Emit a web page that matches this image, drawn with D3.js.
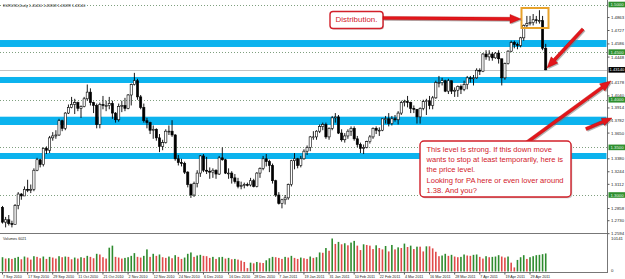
<!DOCTYPE html>
<html><head><meta charset="utf-8">
<script src="https://cdn.jsdelivr.net/npm/d3@7"></script>
<style>body{margin:0;background:#fff}svg{display:block}</style>
</head><body>
<svg id="c" width="625" height="279"></svg>
<script>
// ---------- DATA ----------
const openP = [1.2870,1.2715,1.2740,1.2700,1.2690,1.2890,1.3010,1.2990,1.3060,1.3050,
1.3060,1.3260,1.3370,1.3320,1.3490,1.3470,1.3600,1.3620,1.3630,1.3780,
1.3700,1.3860,1.3920,1.3950,1.3970,1.3910,1.3930,1.4010,1.4080,1.3970,
1.3940,1.3740,1.3950,1.3940,1.3940,1.3960,1.3860,1.3790,1.3930,1.3940,
1.3910,1.4050,1.4160,1.4200,1.4030,1.3920,1.3780,1.3760,1.3680,1.3690,
1.3600,1.3510,1.3550,1.3670,1.3670,1.3630,1.3380,1.3340,1.3330,1.3240,
1.3110,1.3000,1.3120,1.3230,1.3410,1.3260,1.3250,1.3240,1.3260,1.3220,
1.3390,1.3370,1.3230,1.3230,1.3180,1.3140,1.3090,1.3100,1.3110,1.3105,
1.3150,1.3090,1.3230,1.3280,1.3380,1.3350,1.3310,1.3150,1.3000,1.2910,
1.2950,1.2970,1.3110,1.3360,1.3380,1.3310,1.3380,1.3460,1.3500,1.3610,
1.3610,1.3670,1.3720,1.3740,1.3610,1.3700,1.3810,1.3820,1.3650,1.3580,
1.3620,1.3670,1.3700,1.3590,1.3530,1.3490,1.3500,1.3560,1.3610,1.3700,
1.3680,1.3680,1.3800,1.3800,1.3750,1.3800,1.3790,1.3860,1.3970,1.3980,
1.3970,1.3910,1.3900,1.3820,1.3910,1.3980,1.3990,1.3940,1.4020,1.4180,
1.4180,1.4200,1.4090,1.4200,1.4090,1.4100,1.4140,1.4110,1.4160,1.4230,
1.4220,1.4230,1.4310,1.4300,1.4480,1.4450,1.4480,1.4440,1.4490,1.4430,
1.4230,1.4380,1.4510,1.4600,1.4580,1.4570,1.4650,1.4780,1.4800,1.4810,
1.4840,1.4830,1.4830,1.4541];
const highP = [1.2885,1.2770,1.2790,1.2730,1.2905,1.3030,1.3020,1.3090,1.3160,1.3110,
1.3280,1.3390,1.3380,1.3500,1.3510,1.3620,1.3660,1.3680,1.3800,1.3790,
1.3870,1.3950,1.4030,1.4010,1.3980,1.3940,1.4030,1.4160,1.4120,1.3980,
1.3960,1.3970,1.4040,1.3990,1.4030,1.3990,1.3870,1.3960,1.3990,1.4020,
1.4060,1.4170,1.4282,1.4220,1.4050,1.3960,1.3810,1.3770,1.3730,1.3700,
1.3640,1.3580,1.3690,1.3730,1.3785,1.3640,1.3420,1.3380,1.3350,1.3250,
1.3120,1.3140,1.3260,1.3420,1.3430,1.3400,1.3290,1.3280,1.3270,1.3410,
1.3500,1.3380,1.3280,1.3250,1.3220,1.3180,1.3140,1.3130,1.3130,1.3180,
1.3170,1.3240,1.3290,1.3410,1.3430,1.3370,1.3330,1.3160,1.3030,1.2960,
1.3000,1.3120,1.3370,1.3440,1.3390,1.3410,1.3480,1.3520,1.3620,1.3670,
1.3680,1.3740,1.3760,1.3760,1.3710,1.3830,1.3860,1.3840,1.3690,1.3650,
1.3690,1.3720,1.3720,1.3620,1.3550,1.3530,1.3570,1.3630,1.3710,1.3720,
1.3710,1.3800,1.3830,1.3860,1.3830,1.3840,1.3880,1.3990,1.4000,1.4040,
1.3980,1.3940,1.3900,1.3920,1.4000,1.4010,1.4040,1.4040,1.4200,1.4250,
1.4230,1.4210,1.4220,1.4200,1.4130,1.4150,1.4160,1.4200,1.4250,1.4250,
1.4260,1.4330,1.4330,1.4490,1.4520,1.4520,1.4500,1.4500,1.4520,1.4430,
1.4390,1.4520,1.4620,1.4620,1.4600,1.4660,1.4790,1.4880,1.4880,1.4900,
1.4880,1.4940,1.4880,1.4587];
const lowP = [1.2700,1.2660,1.2680,1.2660,1.2690,1.2850,1.2950,1.2990,1.3030,1.3020,
1.3040,1.3250,1.3290,1.3300,1.3430,1.3440,1.3570,1.3590,1.3620,1.3670,
1.3680,1.3850,1.3910,1.3850,1.3880,1.3810,1.3920,1.3990,1.3940,1.3860,
1.3700,1.3700,1.3900,1.3880,1.3900,1.3800,1.3760,1.3770,1.3870,1.3880,
1.3900,1.3940,1.4150,1.4000,1.3900,1.3760,1.3700,1.3640,1.3590,1.3570,
1.3450,1.3470,1.3540,1.3630,1.3610,1.3360,1.3310,1.3300,1.3220,1.3080,
1.2969,1.2980,1.3080,1.3190,1.3240,1.3220,1.3170,1.3180,1.3170,1.3210,
1.3360,1.3220,1.3170,1.3120,1.3120,1.3070,1.3060,1.3070,1.3090,1.3090,
1.3080,1.3080,1.3180,1.3260,1.3300,1.3240,1.3120,1.2980,1.2900,1.2860,
1.2900,1.2950,1.3090,1.3270,1.3280,1.3290,1.3370,1.3420,1.3460,1.3580,
1.3580,1.3650,1.3680,1.3590,1.3580,1.3680,1.3760,1.3640,1.3560,1.3550,
1.3590,1.3620,1.3570,1.3500,1.3440,1.3430,1.3490,1.3540,1.3590,1.3640,
1.3620,1.3670,1.3750,1.3720,1.3730,1.3770,1.3740,1.3840,1.3930,1.3920,
1.3860,1.3860,1.3750,1.3750,1.3890,1.3840,1.3900,1.3900,1.4010,1.4130,
1.4150,1.4080,1.4060,1.4060,1.4030,1.4030,1.4060,1.4090,1.4110,1.4180,
1.4150,1.4220,1.4260,1.4290,1.4420,1.4410,1.4410,1.4430,1.4380,1.4150,
1.4210,1.4370,1.4500,1.4540,1.4530,1.4550,1.4620,1.4760,1.4780,1.4780,
1.4800,1.4800,1.4520,1.4310];
const closeP = [1.2715,1.2740,1.2700,1.2690,1.2890,1.3010,1.2990,1.3060,1.3050,1.3060,
1.3260,1.3370,1.3320,1.3490,1.3470,1.3600,1.3620,1.3630,1.3780,1.3700,
1.3860,1.3920,1.3950,1.3970,1.3910,1.3930,1.4010,1.4080,1.3970,1.3940,
1.3740,1.3950,1.3940,1.3940,1.3960,1.3860,1.3790,1.3930,1.3940,1.3910,
1.4050,1.4160,1.4200,1.4030,1.3920,1.3780,1.3760,1.3680,1.3690,1.3600,
1.3510,1.3550,1.3670,1.3670,1.3630,1.3380,1.3340,1.3330,1.3240,1.3110,
1.3000,1.3120,1.3230,1.3410,1.3260,1.3250,1.3240,1.3260,1.3220,1.3390,
1.3370,1.3230,1.3230,1.3180,1.3140,1.3090,1.3100,1.3110,1.3105,1.3150,
1.3090,1.3230,1.3280,1.3380,1.3350,1.3310,1.3150,1.3000,1.2910,1.2950,
1.2970,1.3110,1.3360,1.3380,1.3310,1.3380,1.3460,1.3500,1.3610,1.3610,
1.3670,1.3720,1.3740,1.3610,1.3700,1.3810,1.3820,1.3650,1.3580,1.3620,
1.3670,1.3700,1.3590,1.3530,1.3490,1.3500,1.3560,1.3610,1.3700,1.3680,
1.3680,1.3800,1.3800,1.3750,1.3800,1.3790,1.3860,1.3970,1.3980,1.3970,
1.3910,1.3900,1.3820,1.3910,1.3980,1.3990,1.3940,1.4020,1.4180,1.4180,
1.4200,1.4090,1.4200,1.4090,1.4100,1.4140,1.4110,1.4160,1.4230,1.4220,
1.4230,1.4310,1.4300,1.4480,1.4450,1.4480,1.4440,1.4490,1.4430,1.4230,
1.4380,1.4510,1.4600,1.4580,1.4570,1.4650,1.4780,1.4800,1.4810,1.4840,
1.4830,1.4830,1.4541,1.4314];
const volumes = [4200,3800,3900,3700,4000,4300,3600,4400,4100,3500,
4500,4300,3900,4400,3700,4300,4100,3800,4500,4200,
4400,4300,3600,4100,3800,4200,4000,4600,4300,3900,
5200,5000,4200,3800,7000,7600,4300,4100,3800,4000,
4200,4600,5400,4300,4100,4600,6500,4300,5200,4600,
5000,4200,4000,4400,3900,4800,4300,3700,4100,5200,
5600,4300,4700,4900,4600,4500,4000,4300,3700,4200,
4300,3800,4000,3600,3700,3500,3200,2800,1000,2600,
2400,2800,2600,2500,3300,3900,4300,4200,4000,3700,
4300,4100,4600,4000,3700,4100,3900,3700,4400,4000,
4200,5600,5500,6900,6100,9700,8100,8700,8000,8300,
7700,8500,9000,7600,6300,8000,7800,7600,6600,7700,
6900,6500,7500,5900,7800,6500,7100,6900,8200,7200,
7600,6600,7300,7300,5900,7400,7400,6800,5800,4500,
4700,5200,4600,4900,4400,4200,4300,5000,4700,4600,
4900,5000,4300,3800,4500,4200,4300,4400,4800,4400,
4100,4400,2600,1200,3400,4200,4800,3700,4200,4500,
4800,4900,5100,5300];
const dateLabels = ["7 Sep 2010","17 Sep 2010","29 Sep 2010","11 Oct 2010","21 Oct 2010","2 Nov 2010","12 Nov 2010","24 Nov 2010","6 Dec 2010","16 Dec 2010","28 Dec 2010","7 Jan 2011","19 Jan 2011","31 Jan 2011","10 Feb 2011","22 Feb 2011","4 Mar 2011","16 Mar 2011","28 Mar 2011","7 Apr 2011","19 Apr 2011","29 Apr 2011"];
const dateLabelBars = [0,8,16,24,32,40,48,56,64,72,80,88,96,104,112,120,128,136,144,152,160,168];
const priceTicks = [1.4863,1.4727,1.4586,1.4448,1.4178,1.4040,1.3914,1.3782,1.3650,1.3380,1.3244,1.3112,1.2858,1.2730,1.2594];
const levelLines = [1.5000,1.4500,1.4000,1.3500,1.3000];
const zoneTop = [1.4627,1.4239,1.3822,1.3441];
const zoneBottom = [1.4554,1.4176,1.3735,1.3378];
const lastPrice = 1.43140;
const volMax = 10141;
const titleText = "EURUSD,Daily  1.45410 1.45868 1.43099 1.43140";
const volTitle = "Volumes 6021";
const noteLines = ["This level is strong. If this down move","wants to stop at least temporarily, here is","the price level.","Looking for PA here or even lover around","1.38. And you?"];
const distText = "Distribution.";

// ---------- DRAW ----------
const svg = d3.select("#c");
const W = 625, axisX = 607.5;
const n = closeP.length;
const x = d3.scaleLinear().domain([0, n-1]).range([2.5, 2.5 + (n-1)*3.14]);
const y = d3.scaleLinear().domain([1.30, 1.50]).range([195, 4.5]);
const vy = d3.scaleLinear().domain([0, volMax]).range([271.5, 237]);
const font = "'Liberation Sans', Arial, sans-serif";
const small = 3.7;

svg.append("rect").attr("width",W).attr("height",279).attr("fill","#fff");

// level dotted lines
svg.append("g").selectAll("line").data(levelLines).join("line")
  .attr("x1",0).attr("x2",axisX).attr("y1",d=>Math.round(y(d))+0.5).attr("y2",d=>Math.round(y(d))+0.5)
  .attr("stroke","#7f9f7f").attr("stroke-width",1).attr("stroke-dasharray","1,2");

// zones
svg.append("g").selectAll("rect").data(zoneTop).join("rect")
  .attr("x",0).attr("width",axisX-1)
  .attr("y",(d)=>y(d)).attr("height",(d,i)=>y(zoneBottom[i])-y(d))
  .attr("fill","#0cb3ee");

// last price line
svg.append("line").attr("x1",0).attr("x2",axisX).attr("y1",Math.round(y(lastPrice))+0.5).attr("y2",Math.round(y(lastPrice))+0.5)
  .attr("stroke","#c4c4c4").attr("stroke-width",1);

// candles
const cg = svg.append("g");
const idx = d3.range(n);
cg.selectAll("line").data(idx).join("line")
  .attr("x1",i=>x(i)).attr("x2",i=>x(i)).attr("y1",i=>y(highP[i])).attr("y2",i=>y(lowP[i]))
  .attr("stroke","#000").attr("stroke-width",0.9);
cg.selectAll("rect").data(idx).join("rect")
  .attr("x",i=>x(i)-1.1).attr("width",2.2)
  .attr("y",i=>y(Math.max(openP[i],closeP[i])))
  .attr("height",i=>Math.max(0.8, Math.abs(y(openP[i])-y(closeP[i]))))
  .attr("fill",i=>closeP[i]>=openP[i]?"#fff":"#000")
  .attr("stroke","#000").attr("stroke-width",0.6);

// panel separator
svg.append("line").attr("x1",0).attr("x2",axisX).attr("y1",233.5).attr("y2",233.5).attr("stroke","#777").attr("stroke-width",1);
// volumes
svg.append("g").selectAll("rect").data(idx).join("rect")
  .attr("x",i=>x(i)-0.8).attr("width",1.6)
  .attr("y",i=>vy(volumes[i])).attr("height",i=>vy(0)-vy(volumes[i]))
  .attr("fill",i=>(i===0||volumes[i]>volumes[i-1])?"#2e8b2e":"#e04a4a");

// right axis
svg.append("line").attr("x1",axisX).attr("x2",axisX).attr("y1",0).attr("y2",273).attr("stroke","#777");
svg.append("line").attr("x1",0).attr("x2",axisX).attr("y1",272.5).attr("y2",272.5).attr("stroke","#777");
const pa = svg.append("g").attr("font-family",font).attr("font-size",4.3).attr("fill","#222");
pa.selectAll("text").data(priceTicks).join("text")
  .attr("x",611).attr("y",d=>y(d)+1.5).text(d=>d.toFixed(4));
pa.selectAll("line").data(priceTicks).join("line")
  .attr("x1",axisX).attr("x2",axisX+2).attr("y1",d=>y(d)).attr("y2",d=>y(d)).attr("stroke","#555");
// level labels
const lg = svg.append("g");
levelLines.forEach(v=>{
  lg.append("rect").attr("x",608.5).attr("y",y(v)-2.8).attr("width",16.5).attr("height",5.6).attr("fill","#2f8f2f");
  lg.append("text").attr("x",610.5).attr("y",y(v)+1.5).attr("font-family",font).attr("font-size",4.3).attr("fill","#e6f7e6").text(v.toFixed(4));
});
lg.append("rect").attr("x",608.5).attr("y",y(lastPrice)-2.8).attr("width",16.5).attr("height",5.6).attr("fill","#000");
lg.append("text").attr("x",609.5).attr("y",y(lastPrice)+1.5).attr("font-family",font).attr("font-size",4.1).attr("fill","#fff").text(lastPrice.toFixed(5));
pa.append("text").attr("x",611).attr("y",240).text(String(volMax));
pa.append("text").attr("x",611).attr("y",272).text("0");

// date axis
const da = svg.append("g").attr("font-family",font).attr("font-size",small).attr("fill","#222");
da.selectAll("text").data(dateLabels).join("text")
  .attr("x",(d,i)=>x(dateLabelBars[i])+0.5).attr("y",277.5).text(d=>d);
da.selectAll("line").data(dateLabelBars).join("line")
  .attr("x1",d=>x(d)).attr("x2",d=>x(d)).attr("y1",272.5).attr("y2",274.5).attr("stroke","#555");

// titles
svg.append("text").attr("x",3).attr("y",6.5).attr("font-family",font).attr("font-size",small).attr("fill","#222").text(titleText);
svg.append("text").attr("x",3).attr("y",239.5).attr("font-family",font).attr("font-size",small).attr("fill","#222").text(volTitle);

// ---------- ANNOTATIONS ----------
function arrow(g, x1,y1,x2,y2, w, hl, hw){
  const dx=x2-x1, dy=y2-y1, L=Math.hypot(dx,dy), ux=dx/L, uy=dy/L, px=-uy, py=ux;
  const bx=x2-ux*hl, by=y2-uy*hl;
  const pts=[[x1+px*w/2,y1+py*w/2],[bx+px*w/2,by+py*w/2],[bx+px*hw/2,by+py*hw/2],[x2,y2],
    [bx-px*hw/2,by-py*hw/2],[bx-px*w/2,by-py*w/2],[x1-px*w/2,y1-py*w/2]];
  g.append("polygon").attr("points",pts.map(p=>[p[0]+1.2,p[1]+1.2].join(",")).join(" ")).attr("fill","#7a7a7a").attr("opacity",0.55);
  g.append("polygon").attr("points",pts.map(p=>p.join(",")).join(" ")).attr("fill","#e3161b").attr("stroke","#b00000").attr("stroke-width",0.4);
}
function fit(sel, width){
  const w = sel.node().getComputedTextLength();
  const fs = parseFloat(sel.attr("font-size"));
  sel.attr("font-size", fs*width/w);
}
const ag = svg.append("g");
// yellow box around distribution
ag.append("rect").attr("x",521.5).attr("y",8).attr("width",27).attr("height",20).attr("fill","none").attr("stroke","#e8a22a").attr("stroke-width",2);
// distribution note
ag.append("rect").attr("x",330).attr("y",11.5).attr("width",53).attr("height",17).attr("rx",3).attr("fill","#888").attr("opacity",0.5).attr("transform","translate(1,1)");
ag.append("rect").attr("x",330).attr("y",11.5).attr("width",53).attr("height",17).attr("rx",3).attr("fill","#fff").attr("stroke","#d2202a").attr("stroke-width",1.4);
const dt = ag.append("text").attr("x",356.5).attr("y",22.3).attr("text-anchor","middle").attr("font-family",font).attr("font-size",7).attr("fill","#d2202a").text(distText);
fit(dt, 42);
arrow(ag, 383, 18, 521, 19, 3.2, 11, 9);
arrow(ag, 583, 29, 547, 68, 3.2, 11, 9);
arrow(ag, 526, 143, 611, 81, 3.2, 11, 9);
arrow(ag, 586, 129, 612, 118, 3.2, 10, 8);
// big note box
ag.append("rect").attr("x",420).attr("y",141).attr("width",151).attr("height",56).attr("rx",4).attr("fill","#888").attr("opacity",0.5).attr("transform","translate(1.2,1.2)");
ag.append("rect").attr("x",420).attr("y",141).attr("width",151).attr("height",56).attr("rx",4).attr("fill","#fff").attr("stroke","#d2202a").attr("stroke-width",1.4);
const nt = ag.append("g").selectAll("text").data(noteLines).join("text")
  .attr("x",426.5).attr("y",(d,i)=>151.5+i*10.4).attr("font-family",font).attr("font-size",7).attr("fill","#d2202a").text(d=>d);
const w2 = nt.nodes()[1].getComputedTextLength();
nt.attr("font-size", 7*137/w2);
</script>
</body></html>
